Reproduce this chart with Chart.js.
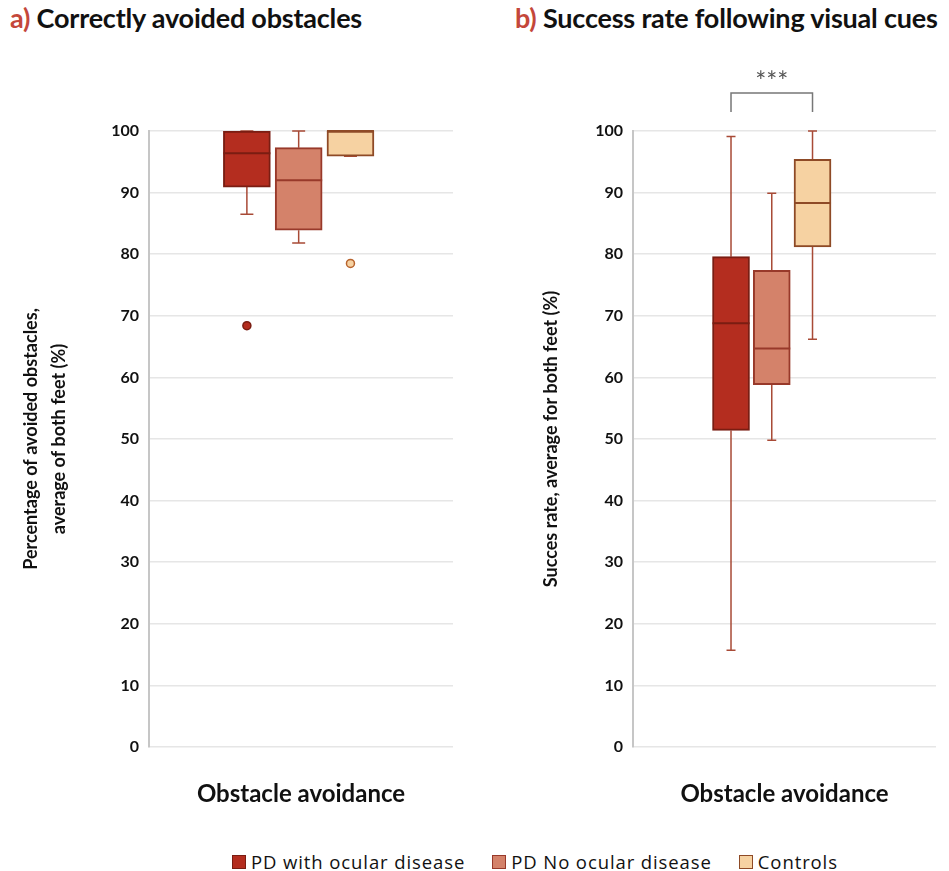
<!DOCTYPE html>
<html>
<head>
<meta charset="utf-8">
<script src="https://cdn.jsdelivr.net/npm/chart.js@4.4.1/dist/chart.umd.min.js"></script>
<style>
  body{margin:0;background:#fff;font-family:Lato,sans-serif;}
  #wrap{position:relative;width:949px;height:871px;overflow:hidden;}
  canvas{position:absolute;top:0;}
  .ttl{position:absolute;top:1px;font-size:27px;font-weight:bold;color:#111;white-space:nowrap;letter-spacing:-0.2px;}
  .ttl span{color:#c4473a;}
  #legend{position:absolute;left:232px;top:849px;display:flex;font-family:'Open Sans',sans-serif;font-size:18.5px;letter-spacing:0.9px;color:#111;}
  #legend div{display:flex;align-items:center;margin-right:27px;}
  #legend i{display:inline-block;width:14px;height:14px;margin-right:5px;box-sizing:border-box;}
</style>
</head>
<body>
<div id="wrap">
  <div class="ttl" style="left:10px"><span>a)</span> Correctly avoided obstacles</div>
  <div class="ttl" style="left:515px"><span>b)</span> Success rate following visual cues</div>
  <canvas id="chartA" width="470" height="840" style="left:0"></canvas>
  <canvas id="chartB" width="479" height="840" style="left:470px"></canvas>
  <div id="legend"></div>
</div>
<script>
// groups
const groups = ['PD with ocular disease', 'PD No ocular disease', 'Controls'];
const fills = ['#b42d1f', '#d4826a', '#f6d2a2'];
const borders = ['#7a1d12', '#98392a', '#8e4a26'];

// a) correctly avoided obstacles
const avoidMin = [86.5, 81.8, 95.9];
const avoidQ1 = [90.9, 83.9, 95.9];
const avoidMedian = [96.4, 92.0, 100];
const avoidQ3 = [100, 97.3, 100];
const avoidMax = [100, 100, 100];
const avoidOutliers = [[68.4], [], [78.5]];

// b) success rate following visual cues
const cueMin = [15.7, 49.8, 66.2];
const cueQ1 = [51.4, 58.8, 81.2];
const cueMedian = [68.8, 64.7, 88.3];
const cueQ3 = [79.6, 77.4, 95.4];
const cueMax = [99.1, 89.9, 100];
const cueOutliers = [[], [], []];

const yTicks = [0, 10, 20, 30, 40, 50, 60, 70, 80, 90, 100];

const boxExtras = {
  id: 'boxExtras',
  beforeDatasetsDraw(chart, args, o) {
    const ctx = chart.ctx, y = chart.scales.y;
    chart.data.datasets.forEach((ds, i) => {
      const bar = chart.getDatasetMeta(i).data[0];
      const x = bar.x;
      ctx.save();
      ctx.strokeStyle = '#a84a36';
      ctx.lineWidth = 1.5;
      ctx.beginPath();
      ctx.moveTo(x, y.getPixelForValue(o.q3[i]));
      ctx.lineTo(x, y.getPixelForValue(o.max[i]));
      ctx.moveTo(x, y.getPixelForValue(o.q1[i]));
      ctx.lineTo(x, y.getPixelForValue(o.min[i]));
      ctx.moveTo(x - o.cap / 2, y.getPixelForValue(o.max[i]));
      ctx.lineTo(x + o.cap / 2, y.getPixelForValue(o.max[i]));
      ctx.moveTo(x - o.cap / 2, y.getPixelForValue(o.min[i]));
      ctx.lineTo(x + o.cap / 2, y.getPixelForValue(o.min[i]));
      ctx.stroke();
      ctx.restore();
    });
  },
  afterDatasetsDraw(chart, args, o) {
    const ctx = chart.ctx, y = chart.scales.y;
    const centers = [];
    chart.data.datasets.forEach((ds, i) => {
      const bar = chart.getDatasetMeta(i).data[0];
      const w = bar.width;
      centers.push(bar.x);
      ctx.save();
      ctx.strokeStyle = borders[i];
      ctx.lineWidth = 2;
      const my = y.getPixelForValue(o.median[i]);
      ctx.beginPath();
      ctx.moveTo(bar.x - w / 2, my);
      ctx.lineTo(bar.x + w / 2, my);
      ctx.stroke();
      o.outliers[i].forEach(v => {
        ctx.beginPath();
        ctx.arc(bar.x, y.getPixelForValue(v), 4, 0, Math.PI * 2);
        ctx.fillStyle = fills[i];
        ctx.fill();
        ctx.lineWidth = 1.5;
        ctx.strokeStyle = i === 2 ? '#b8642e' : borders[i];
        ctx.stroke();
      });
      ctx.restore();
    });
    if (o.bracket) {
      const top = chart.chartArea.top;
      const x0 = centers[o.bracket[0]], x1 = centers[o.bracket[1]];
      ctx.save();
      ctx.strokeStyle = '#777';
      ctx.lineWidth = 1.5;
      ctx.beginPath();
      ctx.moveTo(x0, top - 19);
      ctx.lineTo(x0, top - 38);
      ctx.lineTo(x1, top - 38);
      ctx.lineTo(x1, top - 19);
      ctx.stroke();
      ctx.fillStyle = '#555';
      ctx.font = '26px Lato';
      ctx.textAlign = 'center';
      ctx.textBaseline = 'middle';
      ctx.fillText(o.bracket[2], (x0 + x1) / 2, top - 48);
      ctx.restore();
    }
  }
};

function makeChart(id, q1, q3, extras, yTitle, cfg) {
  return new Chart(document.getElementById(id), {
    type: 'bar',
    data: {
      datasets: groups.map((g, i) => ({
        label: g,
        data: [{x: i, y: [q1[i], q3[i]]}],
        backgroundColor: fills[i],
        borderColor: borders[i],
        borderWidth: 2,
        borderSkipped: false,
        grouped: false,
        barThickness: cfg.barW
      }))
    },
    options: {
      responsive: false,
      animation: false,
      devicePixelRatio: 1,
      layout: {padding: {top: 131, right: cfg.right, bottom: 0, left: 0}},
      plugins: {
        legend: {display: false},
        tooltip: {enabled: false},
        boxExtras: extras
      },
      scales: {
        x: {
          type: 'linear',
          offset: false,
          min: cfg.xMin,
          max: cfg.xMax,
          ticks: {display: false},
          grid: {display: false},
          border: {display: false},
          title: {display: true, text: 'Obstacle avoidance', color: '#111',
            font: {family: 'Lato', size: 24, weight: 'bold'}, padding: {top: 0, bottom: 31}},
          afterFit: s => { s.height = 93; }
        },
        y: {
          min: 0,
          max: 100,
          afterBuildTicks: s => { s.ticks = yTicks.map(v => ({value: v})); },
          ticks: {color: '#111', padding: 10, font: {family: 'Lato', size: 16, weight: 'bold'}},
          grid: {color: '#e6e6e6', lineWidth: 1.5, drawTicks: false},
          border: {color: '#c6c6c6', width: 2},
          title: {display: true, text: yTitle, color: '#111',
            font: {family: 'Lato', size: 18, weight: 'bold', lineHeight: 1.55}, padding: {top: cfg.titlePad, bottom: 0}},
          afterFit: s => { s.width = cfg.axisW; }
        }
      }
    },
    plugins: [boxExtras]
  });
}

makeChart('chartA', avoidQ1, avoidQ3,
  {min: avoidMin, q1: avoidQ1, median: avoidMedian, q3: avoidQ3, max: avoidMax, outliers: avoidOutliers, cap: 13},
  ['Percentage of avoided obstacles,', 'average of both feet (%)'],
  {barW: 47, right: 17, xMin: -1.89, xMax: 3.98, axisW: 149, titlePad: 17});

makeChart('chartB', cueQ1, cueQ3,
  {min: cueMin, q1: cueQ1, median: cueMedian, q3: cueQ3, max: cueMax, outliers: cueOutliers, cap: 9, bracket: [0, 2, '***']},
  'Succes rate, average for both feet (%)',
  {barW: 37, right: 13, xMin: -2.405, xMax: 5.03, axisW: 163, titlePad: 67});

// shared legend
const legend = document.getElementById('legend');
groups.forEach((g, i) => {
  const item = document.createElement('div');
  item.innerHTML = '<i style="background:' + fills[i] + ';border:1.5px solid ' + borders[i] + '"></i>' + g;
  legend.appendChild(item);
});
</script>
</body>
</html>
